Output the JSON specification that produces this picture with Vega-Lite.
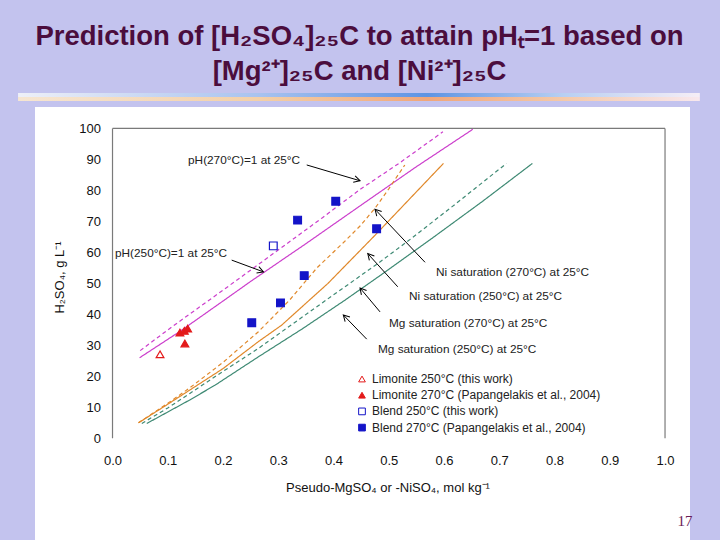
{
  "$schema": "https://vega.github.io/schema/vega-lite/v6.json",
  "width": 655,
  "height": 433,
  "autosize": {"type": "none"},
  "padding": {"left": 35, "top": 107, "right": 30, "bottom": 0},
  "background": "#c3c3ee",
  "config": {"view": {"fill": "white", "stroke": null}},
  "title": {
    "text": ["Prediction of [H₂SO₄]₂₅C to attain pHₜ=1 based on", "[Mg²⁺]₂₅C and [Ni²⁺]₂₅C"],
    "font": "Liberation Sans", "fontSize": 27.5, "fontWeight": "bold", "color": "#4b0d3d",
    "anchor": "middle", "frame": "group", "offset": 8, "lineHeight": 35, "dx": -3
  },
  "datasets": {
    "curves": [
      {"kind": "pH", "temp": "250", "x": 0.049, "y": 26.0},
      {"kind": "pH", "temp": "250", "x": 0.122, "y": 34.5},
      {"kind": "pH", "temp": "250", "x": 0.2, "y": 44.3},
      {"kind": "pH", "temp": "250", "x": 0.249, "y": 50.5},
      {"kind": "pH", "temp": "250", "x": 0.35, "y": 62.8},
      {"kind": "pH", "temp": "250", "x": 0.448, "y": 75.0},
      {"kind": "pH", "temp": "250", "x": 0.548, "y": 87.4},
      {"kind": "pH", "temp": "250", "x": 0.652, "y": 99.7},
      {"kind": "pH", "temp": "270", "x": 0.05, "y": 28.3},
      {"kind": "pH", "temp": "270", "x": 0.11, "y": 36.3},
      {"kind": "pH", "temp": "270", "x": 0.2, "y": 47.8},
      {"kind": "pH", "temp": "270", "x": 0.291, "y": 59.6},
      {"kind": "pH", "temp": "270", "x": 0.38, "y": 71.2},
      {"kind": "pH", "temp": "270", "x": 0.448, "y": 80.3},
      {"kind": "pH", "temp": "270", "x": 0.52, "y": 88.9},
      {"kind": "pH", "temp": "270", "x": 0.598, "y": 98.9},
      {"kind": "Ni", "temp": "250", "x": 0.047, "y": 5.0},
      {"kind": "Ni", "temp": "250", "x": 0.1, "y": 11.0},
      {"kind": "Ni", "temp": "250", "x": 0.14, "y": 15.6},
      {"kind": "Ni", "temp": "250", "x": 0.2, "y": 22.5},
      {"kind": "Ni", "temp": "250", "x": 0.264, "y": 31.2},
      {"kind": "Ni", "temp": "250", "x": 0.306, "y": 36.5},
      {"kind": "Ni", "temp": "250", "x": 0.39, "y": 50.0},
      {"kind": "Ni", "temp": "250", "x": 0.475, "y": 65.5},
      {"kind": "Ni", "temp": "250", "x": 0.599, "y": 88.7},
      {"kind": "Ni", "temp": "270", "x": 0.047, "y": 5.0},
      {"kind": "Ni", "temp": "270", "x": 0.1, "y": 11.3},
      {"kind": "Ni", "temp": "270", "x": 0.14, "y": 16.3},
      {"kind": "Ni", "temp": "270", "x": 0.2, "y": 24.5},
      {"kind": "Ni", "temp": "270", "x": 0.264, "y": 34.4},
      {"kind": "Ni", "temp": "270", "x": 0.32, "y": 44.5},
      {"kind": "Ni", "temp": "270", "x": 0.37, "y": 55.0},
      {"kind": "Ni", "temp": "270", "x": 0.42, "y": 63.5},
      {"kind": "Ni", "temp": "270", "x": 0.448, "y": 68.5},
      {"kind": "Ni", "temp": "270", "x": 0.475, "y": 74.2},
      {"kind": "Ni", "temp": "270", "x": 0.5, "y": 80.5},
      {"kind": "Ni", "temp": "270", "x": 0.529, "y": 88.2},
      {"kind": "Mg", "temp": "270", "x": 0.053, "y": 4.8},
      {"kind": "Mg", "temp": "270", "x": 0.1, "y": 9.8},
      {"kind": "Mg", "temp": "270", "x": 0.14, "y": 14.5},
      {"kind": "Mg", "temp": "270", "x": 0.2, "y": 21.6},
      {"kind": "Mg", "temp": "270", "x": 0.264, "y": 29.0},
      {"kind": "Mg", "temp": "270", "x": 0.315, "y": 35.5},
      {"kind": "Mg", "temp": "270", "x": 0.4, "y": 46.3},
      {"kind": "Mg", "temp": "270", "x": 0.481, "y": 56.5},
      {"kind": "Mg", "temp": "270", "x": 0.541, "y": 64.5},
      {"kind": "Mg", "temp": "270", "x": 0.62, "y": 75.5},
      {"kind": "Mg", "temp": "270", "x": 0.713, "y": 88.7},
      {"kind": "Mg", "temp": "250", "x": 0.062, "y": 4.8},
      {"kind": "Mg", "temp": "250", "x": 0.1, "y": 8.5},
      {"kind": "Mg", "temp": "250", "x": 0.14, "y": 12.4},
      {"kind": "Mg", "temp": "250", "x": 0.186, "y": 17.2},
      {"kind": "Mg", "temp": "250", "x": 0.264, "y": 26.3},
      {"kind": "Mg", "temp": "250", "x": 0.345, "y": 35.5},
      {"kind": "Mg", "temp": "250", "x": 0.42, "y": 44.5},
      {"kind": "Mg", "temp": "250", "x": 0.481, "y": 52.1},
      {"kind": "Mg", "temp": "250", "x": 0.578, "y": 64.5},
      {"kind": "Mg", "temp": "250", "x": 0.67, "y": 76.5},
      {"kind": "Mg", "temp": "250", "x": 0.76, "y": 88.7}
    ],
    "obs": [
      {"series": "Limonite 250°C (this work)", "x": 0.086, "y": 27.1},
      {"series": "Limonite 270°C (Papangelakis et al., 2004)", "x": 0.122, "y": 34.1},
      {"series": "Limonite 270°C (Papangelakis et al., 2004)", "x": 0.13, "y": 34.7},
      {"series": "Limonite 270°C (Papangelakis et al., 2004)", "x": 0.136, "y": 35.4},
      {"series": "Limonite 270°C (Papangelakis et al., 2004)", "x": 0.131, "y": 30.6},
      {"series": "Blend 250°C (this work)", "x": 0.291, "y": 62.1},
      {"series": "Blend 270°C (Papangelakis et al., 2004)", "x": 0.252, "y": 37.3},
      {"series": "Blend 270°C (Papangelakis et al., 2004)", "x": 0.304, "y": 43.7},
      {"series": "Blend 270°C (Papangelakis et al., 2004)", "x": 0.335, "y": 70.4},
      {"series": "Blend 270°C (Papangelakis et al., 2004)", "x": 0.347, "y": 52.5},
      {"series": "Blend 270°C (Papangelakis et al., 2004)", "x": 0.404, "y": 76.5},
      {"series": "Blend 270°C (Papangelakis et al., 2004)", "x": 0.478, "y": 67.6}
    ],
    "arrows": [
      {"x": 0.3515, "y": 88.2, "x2": 0.448, "y2": 83.1, "angle": 16.5},
      {"x": 0.2157, "y": 57.5, "x2": 0.2732, "y2": 53.7, "angle": 20.4},
      {"x": 0.5656, "y": 56.8, "x2": 0.4751, "y2": 73.9, "angle": 226.7},
      {"x": 0.5162, "y": 48.9, "x2": 0.462, "y2": 59.6, "angle": 228.0},
      {"x": 0.4842, "y": 40.8, "x2": 0.448, "y2": 48.5, "angle": 230.1},
      {"x": 0.4601, "y": 32.0, "x2": 0.4177, "y2": 39.8, "angle": 226.0}
    ],
    "notes": [
      {"label": "pH(270°C)=1 at 25°C", "x": 0.1367, "y": 89.8},
      {"label": "pH(250°C)=1 at 25°C", "x": 0.0045, "y": 59.7},
      {"label": "Ni saturation (270°C) at 25°C", "x": 0.5855, "y": 53.6},
      {"label": "Ni saturation (250°C) at 25°C", "x": 0.5367, "y": 45.9},
      {"label": "Mg saturation (270°C) at 25°C", "x": 0.5005, "y": 37.1},
      {"label": "Mg saturation (250°C) at 25°C", "x": 0.4805, "y": 28.7}
    ],
    "frame": [
      {"x": 0, "y": 0, "x2": 0, "y2": 100},
      {"x": 0, "y": 100, "x2": 1, "y2": 100},
      {"x": 1, "y": 100, "x2": 1, "y2": 0}
    ]
  },
  "encoding": {
    "x": {
      "field": "x", "type": "quantitative",
      "scale": {"domain": [-0.1403, 1.0452], "nice": false, "zero": false},
      "axis": {
        "title": "Pseudo-MgSO₄ or -NiSO₄, mol kg⁻¹",
        "values": [0, 0.1, 0.2, 0.3, 0.4, 0.5, 0.6, 0.7, 0.8, 0.9, 1.0],
        "format": ".1f", "offset": -101.7, "domain": false, "ticks": false, "tickSize": 0, "grid": false,
        "labelPadding": 16, "labelFont": "Liberation Sans", "labelFontSize": 13, "labelColor": "#111",
        "titleFont": "Liberation Sans", "titleFontSize": 13, "titleFontWeight": "normal", "titleColor": "#111",
        "titleX": 352.5, "titleY": 48.7, "titleBaseline": "middle", "titleAlign": "center"
      }
    },
    "y": {
      "field": "y", "type": "quantitative",
      "scale": {"domain": [-32.8, 106.9], "nice": false, "zero": false},
      "axis": {
        "title": "H₂SO₄, g L⁻¹",
        "values": [0, 10, 20, 30, 40, 50, 60, 70, 80, 90, 100],
        "offset": -77.5, "domain": false, "ticks": false, "tickSize": 0, "grid": false,
        "labelPadding": 12, "labelFont": "Liberation Sans", "labelFontSize": 13, "labelColor": "#111",
        "titleFont": "Liberation Sans", "titleFontSize": 13, "titleFontWeight": "normal", "titleColor": "#111",
        "titleX": -53.5, "titleY": 170, "titleBaseline": "middle", "titleAlign": "center", "titleAngle": -90
      }
    }
  },
  "layer": [
    {
      "data": {"values": [{"x": -0.171, "x2": 1.063, "y": 111.4, "y2": 110.1}]},
      "mark": {"type": "rect", "fill": {"gradient": "linear", "x1": 0, "y1": 0, "x2": 1, "y2": 0, "stops": [
        {"offset": 0, "color": "#eef0f8"}, {"offset": 0.35, "color": "#a9c3ef"}, {"offset": 0.6, "color": "#5f94e3"},
        {"offset": 0.8, "color": "#b8cff2"}, {"offset": 1, "color": "#f6eef6"}]}},
      "encoding": {"x2": {"field": "x2"}, "y2": {"field": "y2"}}
    },
    {
      "data": {"values": [{"x": -0.171, "x2": 1.063, "y": 110.1, "y2": 108.8}]},
      "mark": {"type": "rect", "fill": {"gradient": "linear", "x1": 0, "y1": 0, "x2": 1, "y2": 0, "stops": [
        {"offset": 0, "color": "#f6e6d2"}, {"offset": 0.35, "color": "#f3d0a8"}, {"offset": 0.6, "color": "#f0a67a"},
        {"offset": 0.8, "color": "#f4c9a9"}, {"offset": 1, "color": "#f8e8ee"}]}},
      "encoding": {"x2": {"field": "x2"}, "y2": {"field": "y2"}}
    },
    {
      "data": {"name": "frame"},
      "mark": {"type": "rule", "color": "#7a7a7a", "strokeWidth": 1.2},
      "encoding": {"x2": {"field": "x2"}, "y2": {"field": "y2"}}
    },
    {
      "data": {"name": "curves"},
      "mark": {"type": "line", "strokeWidth": 1.2},
      "encoding": {
        "color": {"field": "kind", "type": "nominal", "scale": {"domain": ["pH", "Ni", "Mg"], "range": ["#cc3fcc", "#e0882a", "#3f8a74"]}, "legend": null},
        "strokeDash": {"field": "temp", "type": "nominal", "scale": {"domain": ["250", "270"], "range": [[1, 0], [4, 3]]}, "legend": null},
        "order": {"field": "x", "type": "quantitative"}
      }
    },
    {
      "data": {"name": "arrows"},
      "mark": {"type": "rule", "color": "#000", "strokeWidth": 1},
      "encoding": {"x2": {"field": "x2"}, "y2": {"field": "y2"}}
    },
    {
      "data": {"name": "arrows"},
      "mark": {"type": "point", "shape": "M-1,-0.55L0,0L-1,0.55", "filled": false, "stroke": "#000", "strokeWidth": 1, "size": 150, "opacity": 1},
      "encoding": {
        "x": {"field": "x2", "type": "quantitative"},
        "y": {"field": "y2", "type": "quantitative"},
        "angle": {"field": "angle", "type": "quantitative", "scale": null}
      }
    },
    {
      "data": {"name": "notes"},
      "mark": {"type": "text", "align": "left", "baseline": "middle", "font": "Liberation Sans", "fontSize": 11.8, "color": "#222"},
      "encoding": {"text": {"field": "label"}}
    },
    {
      "data": {"name": "obs"},
      "mark": {"type": "point", "size": 60, "strokeWidth": 1.2, "opacity": 1},
      "encoding": {
        "shape": {"field": "series", "type": "nominal",
          "scale": {"domain": ["Limonite 250°C (this work)", "Limonite 270°C (Papangelakis et al., 2004)", "Blend 250°C (this work)", "Blend 270°C (Papangelakis et al., 2004)"],
                    "range": ["triangle-up", "triangle-up", "square", "square"]},
          "legend": {"orient": "none", "legendX": 321, "legendY": 266, "title": null, "labelFont": "Liberation Sans", "labelFontSize": 12, "labelColor": "#222", "symbolSize": 45, "rowPadding": 4.2, "labelOffset": 4, "labelLimit": 400, "padding": 0, "symbolStrokeWidth": 1}},
        "fill": {"field": "series", "type": "nominal",
          "scale": {"domain": ["Limonite 250°C (this work)", "Limonite 270°C (Papangelakis et al., 2004)", "Blend 250°C (this work)", "Blend 270°C (Papangelakis et al., 2004)"],
                    "range": ["#ffffff", "#e31a1a", "#ffffff", "#1414c8"]},
          "legend": {"orient": "none", "legendX": 321, "legendY": 266, "title": null, "labelFont": "Liberation Sans", "labelFontSize": 12, "labelColor": "#222", "symbolSize": 45, "rowPadding": 4.2, "labelOffset": 4, "labelLimit": 400, "padding": 0, "symbolStrokeWidth": 1}},
        "stroke": {"field": "series", "type": "nominal",
          "scale": {"domain": ["Limonite 250°C (this work)", "Limonite 270°C (Papangelakis et al., 2004)", "Blend 250°C (this work)", "Blend 270°C (Papangelakis et al., 2004)"],
                    "range": ["#e31a1a", "#e31a1a", "#1414c8", "#1414c8"]},
          "legend": {"orient": "none", "legendX": 321, "legendY": 266, "title": null, "labelFont": "Liberation Sans", "labelFontSize": 12, "labelColor": "#222", "symbolSize": 45, "rowPadding": 4.2, "labelOffset": 4, "labelLimit": 400, "padding": 0, "symbolStrokeWidth": 1}}
      }
    },
    {
      "data": {"values": [{"label": "17", "x": 1.036, "y": -26.7}]},
      "mark": {"type": "text", "align": "center", "baseline": "middle", "font": "Liberation Serif", "fontSize": 15, "color": "#6b1d56"},
      "encoding": {"text": {"field": "label"}}
    }
  ]
}
